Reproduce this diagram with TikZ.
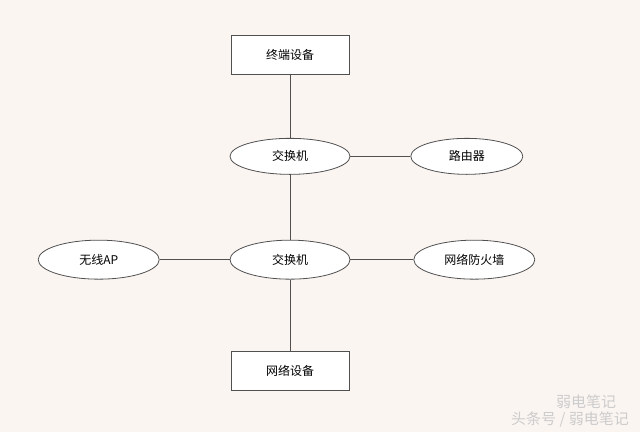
\documentclass[tikz,border=0pt]{standalone}
\usepackage{fontspec}
\newfontfamily\cjk{Noto Sans CJK SC}
\usepackage{tikz}
\usetikzlibrary{positioning,shapes.geometric}
\definecolor{bgpink}{RGB}{251,245,242}
\definecolor{edgegray}{RGB}{80,80,80}

\begin{document}
\begin{tikzpicture}[
  x=1pt, y=-1pt,
  font=\cjk\fontsize{12}{14}\selectfont,
  dev/.style={draw=edgegray, fill=white, line width=0.9pt, minimum width=118pt, minimum height=39pt, inner sep=0pt},
  hub/.style={ellipse, draw=edgegray, fill=white, line width=0.8pt, minimum width=120pt, minimum height=36pt, inner sep=0pt},
  link/.style={draw=edgegray, line width=0.8pt},
  wmark/.style={text=gray!40, inner sep=0pt, font=\cjk\fontsize{15}{16}\selectfont}
]
\fill[bgpink] (0,0) rectangle (640,432);
\useasboundingbox (0,0) rectangle (640,432);

\node[dev] (term) at (290,55) {终端设备};
\node[hub, below=63pt of term] (sw1) {交换机};
\node[hub, right=60pt of sw1, minimum width=112pt] (router) {路由器};
\node[hub, below=65pt of sw1, minimum height=39pt] (sw2) {交换机};
\node[hub, left=70pt of sw2, minimum height=39pt, minimum width=121pt] (ap) {无线AP};
\node[hub, right=63pt of sw2, minimum height=39pt, minimum width=121pt] (fw) {网络防火墙};
\node[dev, below=71pt of sw2] (netdev) {网络设备};

\draw[link] (term) -- (sw1);
\draw[link] (sw1) -- (router);
\draw[link] (sw1) -- (sw2);
\draw[link] (ap) -- (sw2);
\draw[link] (sw2) -- (fw);
\draw[link] (sw2) -- (netdev);

% watermark
\node[wmark, anchor=west] (wm1) at (556,402) {弱电笔记};
\node[wmark, anchor=east] (wm2) at (629,419) {头条号 / 弱电笔记};
\end{tikzpicture}
\end{document}
